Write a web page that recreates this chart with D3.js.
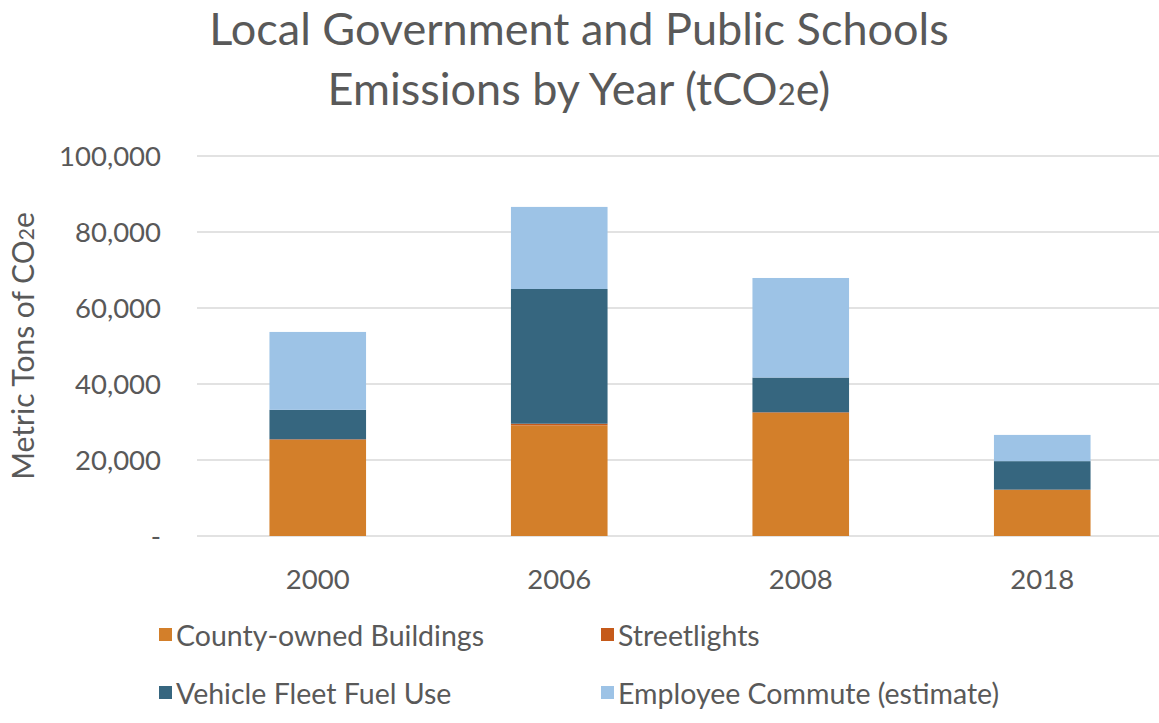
<!DOCTYPE html>
<html><head><meta charset="utf-8">
<script src="https://cdn.jsdelivr.net/npm/d3@7"></script>
<style>body{margin:0;background:#fff;} text{font-family:Lato,"Open Sans",sans-serif;fill:#595959;}</style>
</head><body>
<svg id="c" width="1159" height="723"></svg>
<script>
const years = ["2000","2006","2008","2018"];
const seriesNames = ["County-owned Buildings","Streetlights","Vehicle Fleet Fuel Use","Employee Commute (estimate)"];
const buildings = [25300, 29100, 32400, 12100];
const streetlights = [150, 450, 150, 100];
const fleet = [7750, 35450, 9150, 7500];
const commute = [20500, 21600, 26200, 6900];
const colors = ["#D37F2A","#C55A1A","#36667F","#9DC3E6"];
const yTicks = [0,20000,40000,60000,80000,100000];

const svg = d3.select("#c");
const x = d3.scaleBand().domain(years).range([197,1163]).paddingInner(0.6).paddingOuter(0.3);
const y = d3.scaleLinear().domain([0,100000]).range([536,156]);

const rows = years.map((yr,i)=>({year:yr, b:buildings[i], s:streetlights[i], f:fleet[i], c:commute[i]}));
const stack = d3.stack().keys(["b","s","f","c"])(rows);

// grid
svg.append("g").selectAll("line").data(yTicks).join("line")
  .attr("x1",197).attr("x2",1159).attr("y1",d=>y(d)).attr("y2",d=>y(d))
  .attr("stroke","#D9D9D9").attr("stroke-width",1.5);

// y labels
svg.append("g").selectAll("text").data(yTicks).join("text")
  .attr("x",161).attr("y",d=>y(d)+10).attr("text-anchor","end")
  .style("font-size","27.5px").text(d=>d===0?"-":d3.format(",")(d));

// bars
svg.append("g").selectAll("g").data(stack).join("g").attr("fill",(d,i)=>colors[i])
  .selectAll("rect").data(d=>d).join("rect")
  .attr("x",d=>x(d.data.year)).attr("width",x.bandwidth())
  .attr("y",d=>y(d[1])).attr("height",d=>y(d[0])-y(d[1]));

// x labels
svg.append("g").selectAll("text").data(years).join("text")
  .attr("x",d=>x(d)+x.bandwidth()/2).attr("y",589).attr("text-anchor","middle")
  .style("font-size","27.5px").text(d=>d);

// y title
const yt = svg.append("text").attr("transform","translate(34,346) rotate(-90)").attr("text-anchor","middle").style("font-size","30px");
yt.append("tspan").text("Metric Tons of CO");
yt.append("tspan").style("font-size","21px").text("2");
yt.append("tspan").text("e");

// title
svg.append("text").attr("x",579).attr("y",45).attr("text-anchor","middle").style("font-size","45px").text("Local Government and Public Schools");
const t2 = svg.append("text").attr("x",579).attr("y",105).attr("text-anchor","middle").style("font-size","45px");
t2.append("tspan").text("Emissions by Year (tCO");
t2.append("tspan").style("font-size","31px").text("2");
t2.append("tspan").text("e)");

// legend
const legPos = [[159,646],[601,646],[159,704],[601,704]];
const lg = svg.append("g").selectAll("g").data(seriesNames).join("g")
  .attr("transform",(d,i)=>`translate(${legPos[i][0]},${legPos[i][1]})`);
lg.append("rect").attr("x",0).attr("y",-18).attr("width",13).attr("height",13).attr("fill",(d,i)=>colors[i]);
lg.append("text").attr("x",17).attr("y",0).style("font-size","28.5px").text(d=>d);
</script>
</body></html>
